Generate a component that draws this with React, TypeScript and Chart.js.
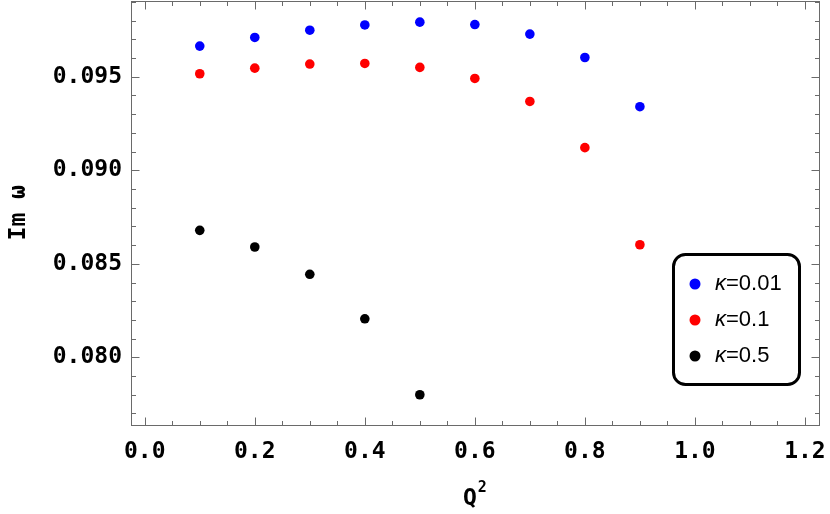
import React, { useEffect, useRef } from "react";
import { Chart, registerables } from "chart.js";

Chart.register(...registerables);

// ---- data ----
const qSquared = [0.1, 0.2, 0.3, 0.4, 0.5, 0.6, 0.7, 0.8, 0.9];
const imOmegaKappa001 = [0.09664, 0.0971, 0.09749, 0.09777, 0.09792, 0.09779, 0.09728, 0.09603, 0.0934];
const imOmegaKappa01 = [0.09516, 0.09546, 0.09568, 0.09571, 0.0955, 0.09491, 0.09368, 0.09121, 0.08602];
const imOmegaKappa05 = [0.08679, 0.0859, 0.08444, 0.08206, 0.078];
const kappaLabels = ["0.01", "0.1", "0.5"];
const seriesColors = ["#0000ff", "#ff0000", "#000000"];

const xTickValues = [0, 0.2, 0.4, 0.6, 0.8, 1.0, 1.2];
const yTickValues = [0.08, 0.085, 0.09, 0.095];
const xMinorStep = 0.05;
const yMinorStep = 0.001;
const xTitleMain = "Q";
const xTitleSup = "2";
const yTitle = "Im ω";

const X_MIN = -0.025;
const X_MAX = 1.225;
const Y_MIN = 0.07641;
const Y_MAX = 0.09905;

const MONO = "'DejaVu Sans Mono', monospace";
const AXIS_FONT = { family: MONO, size: 23, weight: "bold" as const };
const FRAME_COLOR = "#6a6a6a";

function minorValues(min: number, max: number, step: number): number[] {
  const out: number[] = [];
  const start = Math.ceil(min / step - 1e-9);
  const end = Math.floor(max / step + 1e-9);
  for (let i = start; i <= end; i++) out.push(+(i * step).toFixed(6));
  return out;
}

const framePlugin = {
  id: "mmaFrame",
  beforeDatasetsDraw(chart: any) {
    const { ctx, chartArea } = chart;
    const xs = chart.scales.x;
    const ys = chart.scales.y;
    const l = Math.round(chartArea.left) + 0.5;
    const r = Math.round(chartArea.right) + 0.5;
    const t = Math.round(chartArea.top) + 0.5;
    const b = Math.round(chartArea.bottom) + 0.5;
    ctx.save();
    ctx.strokeStyle = FRAME_COLOR;
    ctx.lineWidth = 1;
    ctx.strokeRect(l, t, r - l, b - t);
    const majorLen = 8;
    const minorLen = 4.5;
    ctx.beginPath();
    minorValues(X_MIN, X_MAX, xMinorStep).forEach((v) => {
      const isMajor = xTickValues.some((m) => Math.abs(m - v) < 1e-6);
      const len = isMajor ? majorLen : minorLen;
      const px = Math.round(xs.getPixelForValue(v)) + 0.5;
      ctx.moveTo(px, b);
      ctx.lineTo(px, b - len);
      ctx.moveTo(px, t);
      ctx.lineTo(px, t + len);
    });
    minorValues(Y_MIN, Y_MAX, yMinorStep).forEach((v) => {
      const isMajor = yTickValues.some((m) => Math.abs(m - v) < 1e-7);
      const len = isMajor ? majorLen : minorLen;
      const py = Math.round(ys.getPixelForValue(v)) + 0.5;
      ctx.moveTo(l, py);
      ctx.lineTo(l + len, py);
      ctx.moveTo(r, py);
      ctx.lineTo(r - len, py);
    });
    ctx.stroke();
    ctx.restore();
  },
};

const titlePlugin = {
  id: "xTitle",
  afterDraw(chart: any) {
    const { ctx, chartArea } = chart;
    const cx = (chartArea.left + chartArea.right) / 2;
    ctx.save();
    ctx.fillStyle = "#000";
    ctx.textBaseline = "alphabetic";
    ctx.textAlign = "left";
    ctx.font = `bold 23px ${MONO}`;
    const wQ = ctx.measureText(xTitleMain).width;
    ctx.font = `bold 15px ${MONO}`;
    const w2 = ctx.measureText(xTitleSup).width;
    const x0 = cx - (wQ + w2 + 1) / 2;
    ctx.font = `bold 23px ${MONO}`;
    ctx.fillText(xTitleMain, x0, 505);
    ctx.font = `bold 15px ${MONO}`;
    ctx.fillText(xTitleSup, x0 + wQ + 1, 492);
    ctx.restore();
  },
};

const legendPlugin = {
  id: "mmaLegend",
  afterDraw(chart: any) {
    const { ctx } = chart;
    const boxX = 673.5;
    const boxY = 254.5;
    const boxW = 126;
    const boxH = 130;
    ctx.save();
    ctx.beginPath();
    ctx.roundRect(boxX, boxY, boxW, boxH, 12);
    ctx.fillStyle = "#ffffff";
    ctx.fill();
    ctx.lineWidth = 3;
    ctx.strokeStyle = "#000000";
    ctx.stroke();
    chart.data.datasets.forEach((ds: any, i: number) => {
      const cy = 284 + i * 36;
      ctx.beginPath();
      ctx.arc(695, cy, 5.5, 0, Math.PI * 2);
      ctx.fillStyle = ds.backgroundColor;
      ctx.fill();
      ctx.fillStyle = "#000000";
      ctx.textBaseline = "middle";
      ctx.textAlign = "left";
      ctx.font = "italic 22px 'Liberation Sans', Arial, sans-serif";
      ctx.fillText("κ", 715, cy);
      const w = ctx.measureText("κ").width;
      ctx.font = "22px 'Liberation Sans', Arial, sans-serif";
      ctx.fillText("=" + ds.kappa, 715 + w, cy);
    });
    ctx.restore();
  },
};

export default function App() {
  const canvasRef = useRef<HTMLCanvasElement | null>(null);

  useEffect(() => {
    document.body.style.margin = "0";
    const canvas = canvasRef.current;
    if (!canvas) return;
    const seriesValues = [imOmegaKappa001, imOmegaKappa01, imOmegaKappa05];
    const datasets = seriesValues.map((vals, i) => ({
      label: "κ=" + kappaLabels[i],
      kappa: kappaLabels[i],
      data: vals.map((y, j) => ({ x: qSquared[j], y })),
      backgroundColor: seriesColors[i],
      borderColor: seriesColors[i],
      borderWidth: 0,
      pointRadius: 4.8,
      showLine: false,
    }));
    const chart = new Chart(canvas, {
      type: "scatter",
      data: { datasets } as any,
      options: {
        animation: false,
        responsive: true,
        maintainAspectRatio: false,
        layout: { autoPadding: false, padding: { top: 1, right: 11.3, left: 0, bottom: 0 } },
        plugins: {
          legend: { display: false },
          tooltip: { enabled: false },
        },
        scales: {
          x: {
            type: "linear",
            min: X_MIN,
            max: X_MAX,
            afterBuildTicks: (s: any) => {
              s.ticks = xTickValues.map((v) => ({ value: v }));
            },
            afterFit: (s: any) => {
              s.height = 89.5;
              s.paddingLeft = 0;
              s.paddingRight = 0;
            },
            grid: { display: false, drawTicks: false },
            border: { display: false },
            ticks: {
              autoSkip: false,
              maxRotation: 0,
              padding: 14,
              color: "#000",
              font: AXIS_FONT,
              callback: (v: any) => Number(v).toFixed(1),
            },
            title: { display: false },
          },
          y: {
            type: "linear",
            min: Y_MIN,
            max: Y_MAX,
            afterBuildTicks: (s: any) => {
              s.ticks = yTickValues.map((v) => ({ value: v }));
            },
            afterFit: (s: any) => {
              s.width = 131;
              s.paddingTop = 0;
              s.paddingBottom = 0;
            },
            grid: { display: false, drawTicks: false },
            border: { display: false },
            ticks: {
              autoSkip: false,
              padding: 9,
              color: "#000",
              font: AXIS_FONT,
              callback: (v: any) => Number(v).toFixed(3),
            },
            title: {
              display: true,
              text: yTitle,
              color: "#000",
              font: AXIS_FONT,
              padding: { top: 5, bottom: 0 },
            },
          },
        },
      } as any,
      plugins: [framePlugin, legendPlugin, titlePlugin],
    });
    return () => chart.destroy();
  }, []);

  return (
    <div style={{ position: "fixed", left: 0, top: 0, width: 830, height: 514 }}>
      <canvas ref={canvasRef} />
    </div>
  );
}
